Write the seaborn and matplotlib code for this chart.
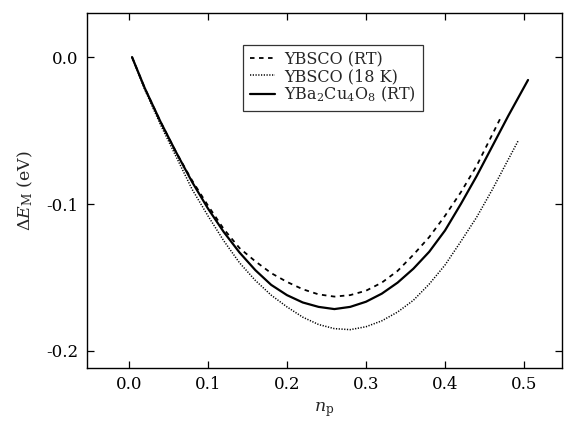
import matplotlib
matplotlib.use("Agg")
import matplotlib.pyplot as plt
import seaborn as sns
import pandas as pd

# --- data ---
x_ybco8 = [0.004, 0.02, 0.04, 0.06, 0.08, 0.10, 0.12, 0.14, 0.16, 0.18, 0.20, 0.22, 0.24,
           0.26, 0.28, 0.30, 0.32, 0.34, 0.36, 0.38, 0.40, 0.42, 0.44, 0.46, 0.48, 0.505]
y_ybco8 = [0.0, -0.021, -0.044, -0.065, -0.085, -0.103, -0.119, -0.133, -0.145, -0.155,
           -0.162, -0.167, -0.170, -0.1715, -0.170, -0.1665, -0.161, -0.1535, -0.144, -0.1325,
           -0.118, -0.100, -0.081, -0.0605, -0.040, -0.0156]

x_rt = [0.004, 0.02, 0.04, 0.06, 0.08, 0.10, 0.12, 0.14, 0.16, 0.18, 0.20, 0.22, 0.24,
        0.26, 0.28, 0.30, 0.32, 0.34, 0.36, 0.38, 0.40, 0.42, 0.44, 0.47]
y_rt = [0.0, -0.021, -0.044, -0.065, -0.084, -0.101, -0.117, -0.130, -0.139, -0.147,
        -0.153, -0.158, -0.1615, -0.163, -0.162, -0.159, -0.1535, -0.1455, -0.1345, -0.1225,
        -0.108, -0.092, -0.074, -0.0417]

x_18k = [0.004, 0.02, 0.04, 0.06, 0.08, 0.10, 0.12, 0.14, 0.16, 0.18, 0.20, 0.22, 0.24,
         0.26, 0.28, 0.30, 0.32, 0.34, 0.36, 0.38, 0.40, 0.42, 0.44, 0.46, 0.493]
y_18k = [0.0, -0.022, -0.046, -0.068, -0.090, -0.108, -0.125, -0.140, -0.152, -0.162,
         -0.170, -0.177, -0.182, -0.1848, -0.1855, -0.1835, -0.1795, -0.1735, -0.1655, -0.1545,
         -0.1415, -0.1255, -0.109, -0.090, -0.0565]

labels = ["YBSCO (RT)", "YBSCO (18 K)", r"YBa$_2$Cu$_4$O$_8$ (RT)"]
x_ticks = [0.0, 0.1, 0.2, 0.3, 0.4, 0.5]
y_ticks = [0.0, -0.1, -0.2]

sns.set_style("ticks")
plt.rcParams["font.family"] = ["DejaVu Serif"]
plt.rcParams["mathtext.fontset"] = "dejavuserif"
plt.rcParams["axes.unicode_minus"] = False

fig = plt.figure(figsize=(5.67, 4.23), dpi=100)
ax = fig.add_axes([0.1534, 0.130, 0.8378, 0.8393])

df_rt = pd.DataFrame({"x": x_rt, "y": y_rt})
df_18k = pd.DataFrame({"x": x_18k, "y": y_18k})
df_8 = pd.DataFrame({"x": x_ybco8, "y": y_ybco8})

sns.lineplot(data=df_rt, x="x", y="y", ax=ax, color="black", lw=1.3,
             linestyle=(0, (2.5, 2.5)), label=labels[0], sort=False)
sns.lineplot(data=df_18k, x="x", y="y", ax=ax, color="black", lw=1.1,
             linestyle=(0, (0.8, 1.0)), label=labels[1], sort=False)
sns.lineplot(data=df_8, x="x", y="y", ax=ax, color="black", lw=1.6,
             linestyle="-", label=labels[2], sort=False)

ax.set_xlim(-0.053, 0.548)
ax.set_ylim(-0.2116, 0.030)
ax.set_xticks(x_ticks)
ax.set_xticklabels([f"{v:.1f}" for v in x_ticks])
ax.set_yticks(y_ticks)
ax.set_yticklabels([f"{v:.1f}" for v in y_ticks])
ax.tick_params(direction="in", top=True, right=True, length=5, width=0.9,
               labelsize=12, colors="black", pad=6)
for s in ax.spines.values():
    s.set_color("black")
    s.set_linewidth(1.0)

ax.set_xlabel(r"$n_{\rm p}$", fontsize=12.5, labelpad=5)
ax.set_ylabel(r"$\Delta E_{\rm M}$ (eV)", fontsize=12.5, labelpad=8)

leg = ax.legend(loc="upper center", bbox_to_anchor=(0.518, 0.911), fontsize=11.5,
                frameon=True, fancybox=False, edgecolor="black", handlelength=1.6,
                handletextpad=0.55, borderpad=0.4, labelspacing=0.0, borderaxespad=0)
leg.get_frame().set_linewidth(0.9)

fig.savefig("out.png", dpi=100)
